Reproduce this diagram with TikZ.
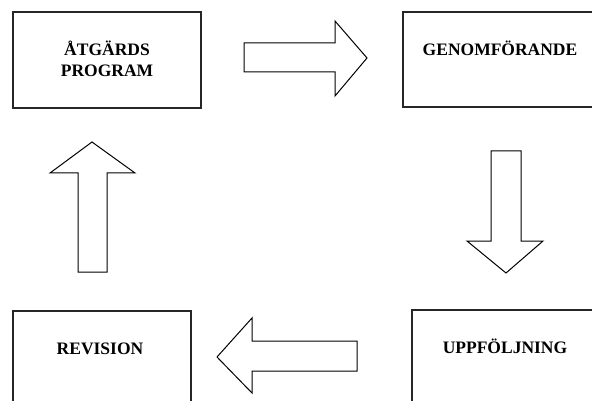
\documentclass[tikz,border=0pt]{standalone}
\usepackage{fontspec}
\setmainfont{Liberation Serif}
\begin{document}
\begin{tikzpicture}[x=1pt,y=-1pt,
  box/.style={draw=black!85,line width=1.3pt},
  blockarrow/.style={draw=black,line width=1pt,fill=white,line join=miter},
  label/.style={font=\fontsize{17.5}{20}\selectfont\bfseries,anchor=base,inner sep=0pt}]
\useasboundingbox (0,0) rectangle (592,401);
\clip (0,0) rectangle (592,401);
% boxes
\draw[box] (13,12) rectangle (201,108) coordinate (b1);
\draw[box] (403,12) rectangle (596,107);
\draw[box] (13,311) rectangle (191,405);
\draw[box] (412,310) rectangle (596,405);
% labels
\node[label] (atg) at (107,56) {ÅTGÄRDS};
\node[label] (prog) at (107,77) {PROGRAM};
\node[label] (gen) at (500,56) {GENOMFÖRANDE};
\node[label] (rev) at (100,354) {REVISION};
\node[label] (upp) at (505,353) {UPPFÖLJNING};
% block arrows
% right
\draw[blockarrow] (244,43) -- (335,43) -- (335,21) -- (367,58) -- (335,96) -- (335,72) -- (244,72) -- cycle;
% down
\draw[blockarrow] (491,151) -- (521,151) -- (521,241) -- (543,241) -- (506,273) -- (467,241) -- (491,241) -- cycle;
% left
\draw[blockarrow] (357,341) -- (252,341) -- (252,318) -- (217,357) -- (252,393) -- (252,371) -- (357,371) -- cycle;
% up
\draw[blockarrow] (78,272) -- (107,272) -- (107,173) -- (135,173) -- (92,142) -- (50,173) -- (78,173) -- cycle;
\end{tikzpicture}
\end{document}
